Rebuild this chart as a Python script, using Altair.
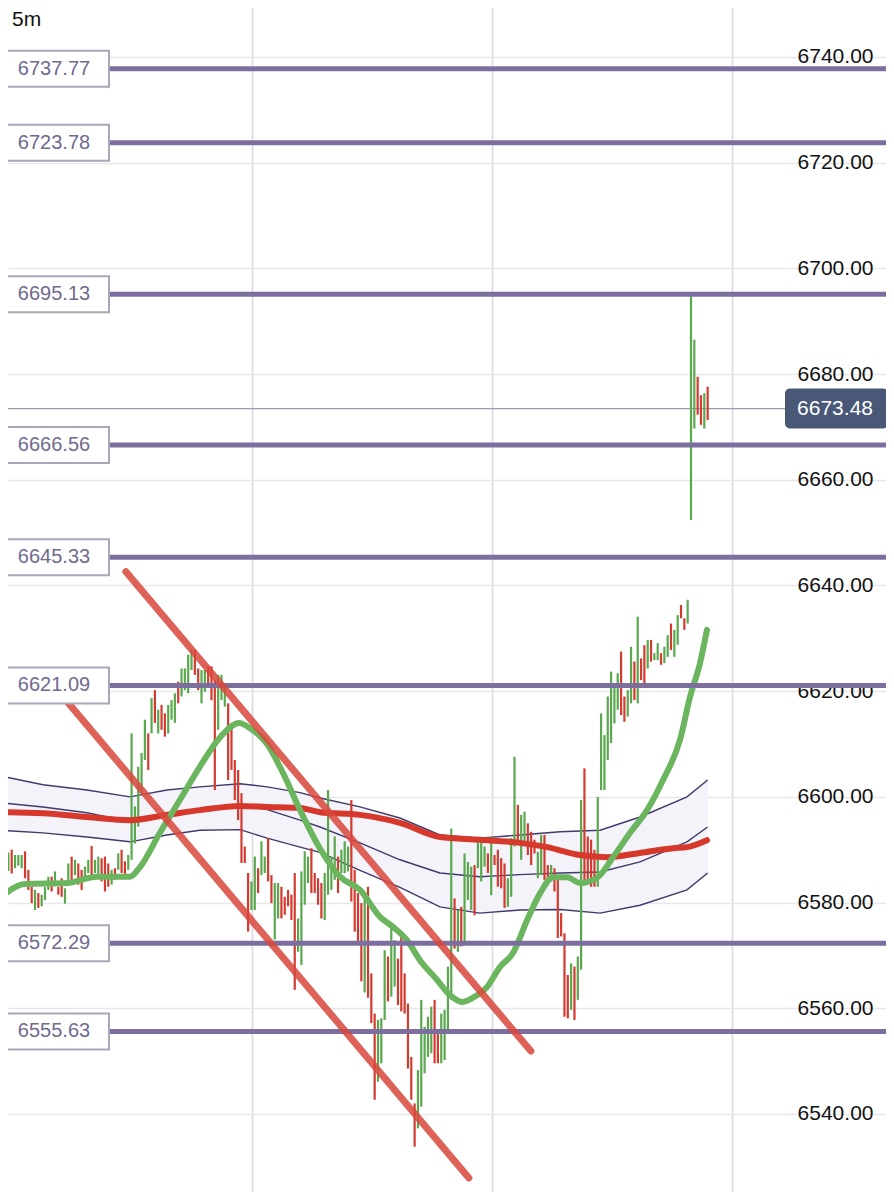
import altair as alt
import pandas as pd

# ---------------- data ----------------
TIMEFRAME = "5m"

# 5-minute bars, index 0..212 (high / low / direction g=up r=down)
HIGH = [
    6589.5, 6590.0, 6589.5, 6590.0, 6589.0, 6589.0, 6589.0, 6589.7, 6586.2, 6583.0,
    6582.4, 6581.8, 6581.5, 6583.0, 6584.9, 6584.9, 6585.9, 6583.0, 6584.6, 6582.7,
    6587.4, 6588.7, 6588.1, 6587.4, 6586.2, 6586.8, 6588.1, 6590.7, 6588.1, 6588.7,
    6588.4, 6588.7, 6587.4, 6586.2, 6586.5, 6589.3, 6590.0, 6587.8, 6589.0, 6612.0,
    6598.2, 6605.7, 6608.3, 6614.6, 6612.0, 6618.7, 6620.2, 6616.5, 6617.4, 6615.8,
    6617.4, 6618.3, 6619.6, 6621.8, 6624.3, 6624.3, 6626.9, 6627.8, 6627.8, 6624.3,
    6624.0, 6624.0, 6624.7, 6624.7, 6622.1, 6623.1, 6623.1, 6621.5, 6617.7, 6613.3,
    6607.0, 6605.1, 6600.7, 6590.6, 6585.6, 6584.0, 6588.7, 6586.5, 6591.6, 6588.7,
    6592.2, 6585.2, 6583.7, 6583.7, 6583.0, 6581.1, 6582.4, 6581.5, 6585.6, 6577.0,
    6585.9, 6589.7, 6588.7, 6590.3, 6585.6, 6584.6, 6583.7, 6585.6, 6601.3, 6588.7,
    6592.5, 6588.7, 6590.0, 6591.6, 6590.6, 6599.4, 6586.2, 6581.8, 6579.9, 6582.0,
    6583.0, 6566.6, 6559.0, 6557.8, 6558.1, 6571.0, 6569.8, 6576.1, 6572.9, 6569.4,
    6574.5, 6566.6, 6560.9, 6550.8, 6542.0, 6548.3, 6561.6, 6556.5, 6558.4, 6560.3,
    6561.6, 6555.9, 6559.0, 6559.7, 6567.9, 6594.0, 6580.8, 6578.6, 6579.2, 6589.3,
    6587.7, 6586.8, 6587.1, 6591.5, 6591.9, 6590.6, 6589.3, 6592.5, 6589.0, 6590.0,
    6588.4, 6587.4, 6584.6, 6592.2, 6607.6, 6598.5, 6596.6, 6597.2, 6595.0, 6593.4,
    6591.9, 6589.6, 6592.8, 6592.8, 6587.1, 6587.1, 6586.5, 6584.9, 6578.0, 6574.2,
    6566.3, 6568.5, 6567.9, 6569.8, 6599.4, 6605.4, 6592.5, 6591.9, 6590.0, 6600.0,
    6615.8, 6611.7, 6619.0, 6623.7, 6621.2, 6623.4, 6627.5, 6619.0, 6620.2, 6628.4,
    6625.6, 6634.1, 6626.2, 6628.7, 6629.7, 6629.7, 6627.2, 6629.1, 6627.2, 6628.4,
    6630.6, 6632.8, 6631.6, 6634.4, 6636.3, 6633.8, 6637.3, 6695.0, 6686.5, 6679.5,
    6676.0, 6676.4, 6677.6,
]
LOW = [
    6585.5, 6586.0, 6586.0, 6585.5, 6586.5, 6587.0, 6586.5, 6584.6, 6582.4, 6579.9,
    6578.6, 6579.0, 6579.3, 6580.5, 6582.4, 6582.1, 6583.4, 6581.5, 6581.1, 6579.8,
    6584.3, 6584.3, 6585.2, 6583.4, 6582.4, 6584.3, 6585.6, 6585.2, 6585.6, 6585.2,
    6584.0, 6582.1, 6583.0, 6583.4, 6584.3, 6586.2, 6585.6, 6585.2, 6586.2, 6588.1,
    6591.2, 6594.4, 6600.7, 6607.0, 6605.1, 6612.0, 6614.0, 6612.0, 6612.7, 6611.4,
    6612.0, 6614.6, 6614.0, 6617.7, 6619.0, 6620.2, 6619.6, 6624.0, 6623.1, 6620.2,
    6617.7, 6619.9, 6621.2, 6618.3, 6601.3, 6612.7, 6618.3, 6617.1, 6603.2, 6605.1,
    6599.4, 6595.6, 6587.5, 6587.5, 6574.5, 6578.6, 6578.6, 6581.8, 6585.2, 6585.6,
    6584.0, 6579.9, 6573.0, 6577.0, 6577.0, 6577.7, 6579.3, 6576.7, 6563.5, 6570.7,
    6568.2, 6579.6, 6583.7, 6581.8, 6581.8, 6579.6, 6577.0, 6576.7, 6581.5, 6582.4,
    6584.3, 6581.8, 6585.6, 6585.6, 6585.9, 6580.2, 6574.5, 6572.0, 6565.1, 6563.0,
    6562.0, 6557.2, 6542.7, 6546.1, 6549.6, 6557.8, 6561.3, 6562.2, 6564.1, 6560.6,
    6559.4, 6559.0, 6548.6, 6542.7, 6533.8, 6537.3, 6541.4, 6547.7, 6550.8, 6551.5,
    6549.6, 6549.6, 6549.6, 6550.2, 6555.9, 6561.6, 6571.3, 6570.7, 6571.7, 6572.3,
    6580.5, 6578.6, 6577.6, 6586.5, 6584.0, 6586.8, 6585.6, 6581.4, 6587.1, 6583.0,
    6582.7, 6579.0, 6579.2, 6581.1, 6590.6, 6591.5, 6588.1, 6591.2, 6589.0, 6587.1,
    6589.3, 6584.6, 6585.2, 6584.3, 6584.3, 6584.0, 6582.1, 6573.3, 6573.6, 6558.4,
    6558.1, 6559.7, 6557.8, 6561.6, 6567.3, 6583.7, 6584.3, 6583.0, 6583.0, 6583.0,
    6601.3, 6601.3, 6607.0, 6610.2, 6613.9, 6616.5, 6615.5, 6614.2, 6615.2, 6617.7,
    6618.3, 6617.7, 6622.1, 6620.9, 6624.3, 6625.6, 6625.9, 6625.9, 6625.0, 6625.3,
    6626.5, 6627.8, 6626.5, 6628.8, 6633.8, 6631.6, 6632.8, 6652.4, 6669.7, 6672.3,
    6670.4, 6669.7, 6671.3,
]
DIR = (
    "grgrgggrrr" "grgggrgrrg" "grgrrggrgg" "rrrgrgrrgg" "ggggrgrgrr"
    "gggrggggrr" "ggrrrgggrr" "rrrrrggrgg" "rrggrrrrrg" "gggrrrrggg"
    "grgggrrrrg" "rrrgggrggr" "rrrrrggggg" "rrggggrgrg" "ggrgggrgrr"
    "rrgggrggrr" "rggrrgrrrr" "rgrggrrrrg" "ggggggrrgg" "rgrrgrggrg"
    "grggrrgggr" "rgr"
)

# fast moving average (green)
GREEN_MA_IDX = [-0.5, 7, 19.6, 28.6, 38.5, 41.5, 47.5, 53.5, 59.5, 65.6, 71.3, 74.6,
                79.7, 84.5, 89.6, 95.6, 101.6, 107.6, 113.6, 117.5, 121.7, 125.6,
                130.7, 134.6, 138.2, 141.5, 145.7, 149.6, 153.6, 157.8, 161.7, 165.6,
                169.8, 173.7, 178.8, 183.6, 188.7, 193.8, 198.6, 203.7, 206.7, 209.7, 211.8]
GREEN_MA_VAL = [6580.9, 6583.5, 6583.7, 6584.9, 6584.9, 6586.7, 6593.2, 6599.4, 6605.7,
                6611.3, 6614.0, 6613.0, 6610.0, 6604.5, 6597.5, 6590.2, 6584.9, 6582.4,
                6577.3, 6575.4, 6572.9, 6569.1, 6565.4, 6562.5, 6561.2, 6562.0, 6564.0,
                6567.8, 6570.5, 6576.7, 6581.8, 6584.8, 6584.8, 6583.7, 6584.7, 6588.6,
                6593.2, 6597.5, 6603.2, 6610.8, 6618.9, 6625.3, 6631.6]

# slow moving average (red)
RED_MA_IDX = [-0.5, 12.4, 25.6, 38.5, 49.6, 59.5, 71.6, 79.7, 89.6, 95.6, 107.6,
              119.6, 131.6, 143.6, 155.6, 163.8, 173.7, 181.8, 191.7, 201.6, 205.8, 211.8]
RED_MA_VAL = [6597.1, 6596.9, 6596.2, 6595.6, 6596.6, 6597.5, 6598.3, 6598.1, 6597.9,
              6597.1, 6596.6, 6595.1, 6592.4, 6591.9, 6591.3, 6590.5, 6589.0, 6588.6,
              6589.4, 6590.3, 6590.5, 6591.8]

# envelope / band (upper, middle, lower)
BAND_IDX = [-0.5, 12.4, 25.6, 38.5, 49.6, 59.5, 71.6, 79.7, 89.6, 95.6, 107.6, 119.6,
            131.6, 143.6, 155.6, 167.7, 179.7, 191.7, 205.8, 212.0]
BAND_UP = [6604.0, 6602.3, 6601.3, 6600.0, 6601.3, 6601.9, 6602.5, 6601.9, 6600.8, 6599.8,
           6598.1, 6596.0, 6592.8, 6592.2, 6592.8, 6593.4, 6593.7, 6596.2, 6600.0, 6603.2]
BAND_MID = [6598.9, 6598.1, 6597.0, 6595.3, 6596.2, 6597.3, 6598.5, 6597.6, 6595.6, 6594.3,
            6591.3, 6588.1, 6585.6, 6584.9, 6585.3, 6585.6, 6585.8, 6587.7, 6591.5, 6594.3]
BAND_LO = [6593.7, 6593.2, 6592.4, 6591.5, 6592.8, 6593.7, 6593.8, 6592.2, 6590.5, 6589.5,
           6586.1, 6582.9, 6579.2, 6578.0, 6578.6, 6578.7, 6578.0, 6579.5, 6582.4, 6585.6]

# drawn trend channel
TREND_A_IDX = [37.3, 158.9]
TREND_A_VAL = [6642.6, 6551.9]
TREND_B_IDX = [19.3, 140.3]
TREND_B_VAL = [6618.3, 6527.9]

# horizontal levels
LEVELS = [6737.77, 6723.78, 6695.13, 6666.56, 6645.33, 6621.09, 6572.29, 6555.63]
LAST_PRICE = 6673.48

Y_TICKS = [6540, 6560, 6580, 6600, 6620, 6640, 6660, 6680, 6700, 6720, 6740]
V_GRID = [75.2, 147.2, 219.2]

# ---------------- chart ----------------
W, H = 878, 1184
FONT = "Liberation Sans"

xs = alt.Scale(domain=[1.89, 265.56], nice=False, zero=False)
ys = alt.Scale(domain=[6525.24, 6749.27], nice=False, zero=False)

XAX = alt.Axis(values=V_GRID, grid=True, labels=False, ticks=False, tickSize=0, domain=False,
               title=None, gridColor="#dcdce2", gridWidth=1.8)
YAX = alt.Axis(values=Y_TICKS, orient="right", format=".2f", grid=True,
               gridColor="#e7e7ec", gridWidth=1.5, ticks=False, tickSize=0,
               domain=False, labelAlign="right", labelPadding=-13,
               labelFontSize=21, labelColor="#111111", labelFont=FONT,
               labelFlush=False, labelOverlap=False, title=None)


def X(f):
    return alt.X(f, scale=xs, axis=XAX)


def Y(f):
    return alt.Y(f, scale=ys, axis=YAX)


candles = pd.DataFrame({"i": list(range(len(HIGH))), "high": HIGH, "low": LOW, "dir": list(DIR)})
green_df = pd.DataFrame({"i": GREEN_MA_IDX, "v": GREEN_MA_VAL})
red_df = pd.DataFrame({"i": RED_MA_IDX, "v": RED_MA_VAL})
band_df = pd.DataFrame({"i": BAND_IDX, "up": BAND_UP, "mid": BAND_MID, "lo": BAND_LO})
band_long = pd.concat([
    pd.DataFrame({"i": BAND_IDX, "v": BAND_UP, "b": "up"}),
    pd.DataFrame({"i": BAND_IDX, "v": BAND_MID, "b": "mid"}),
    pd.DataFrame({"i": BAND_IDX, "v": BAND_LO, "b": "lo"}),
])
trend_df = pd.concat([
    pd.DataFrame({"i": TREND_A_IDX, "v": TREND_A_VAL, "t": "a"}),
    pd.DataFrame({"i": TREND_B_IDX, "v": TREND_B_VAL, "t": "b"}),
])
levels_df = pd.DataFrame({"level": LEVELS})
last_df = pd.DataFrame({"p": [LAST_PRICE]})
tf_df = pd.DataFrame({"t": [TIMEFRAME]})

band_area = alt.Chart(band_df).mark_area(color="#f3f3f9").encode(
    x=X("i:Q"), y=Y("up:Q"), y2="lo:Q",
)

band_lines = alt.Chart(band_long).mark_line(color="#3f3a6b", strokeWidth=1.4).encode(
    x=X("i:Q"), y=Y("v:Q"), detail="b:N"
)

price_line = alt.Chart(last_df).mark_rule(color="#9c99ab", strokeWidth=1.2).encode(
    y=Y("p:Q"), x=alt.value(0), x2=alt.value(777)
)

bars = alt.Chart(candles).mark_rule(strokeWidth=2.2).encode(
    x=X("i:Q"), y=Y("high:Q"), y2="low:Q",
    color=alt.Color("dir:N", scale=alt.Scale(domain=["g", "r"], range=["#59a84e", "#d33a30"]),
                    legend=None),
)

red_ma = alt.Chart(red_df).mark_line(color="#d6382c", strokeWidth=6, interpolate="monotone",
                                     strokeCap="round").encode(x=X("i:Q"), y=Y("v:Q"))
green_ma = alt.Chart(green_df).mark_line(color="#6ab55e", strokeWidth=6, interpolate="monotone",
                                         strokeCap="round").encode(x=X("i:Q"), y=Y("v:Q"))

level_lines = alt.Chart(levels_df).mark_rule(color="#7c6f9f", strokeWidth=5).encode(
    y=Y("level:Q"), x=alt.value(101), x2=alt.value(W)
)

trends = alt.Chart(trend_df).mark_line(color="#d9463c", strokeWidth=7, opacity=0.85,
                                       strokeCap="round").encode(
    x=X("i:Q"), y=Y("v:Q"), detail="t:N"
)

level_boxes = alt.Chart(levels_df).mark_rect(fill="white", stroke="#a9a8b8", strokeWidth=2,
                                             yOffset=-18, y2Offset=18).encode(
    y=Y("level:Q"), y2="level:Q", x=alt.value(-8), x2=alt.value(101)
)
level_text = alt.Chart(levels_df).mark_text(font=FONT, fontSize=20, color="#716a8f",
                                            align="center", baseline="middle").encode(
    y=Y("level:Q"), x=alt.value(46), text=alt.Text("level:Q", format=".2f")
)

last_box = alt.Chart(last_df).mark_rect(fill="#4a5878", cornerRadius=5,
                                        yOffset=-20, y2Offset=20).encode(
    y=Y("p:Q"), y2="p:Q", x=alt.value(777), x2=alt.value(880)
)
last_text = alt.Chart(last_df).mark_text(font=FONT, fontSize=21, color="white",
                                         align="right", baseline="middle").encode(
    y=Y("p:Q"), x=alt.value(865), text=alt.Text("p:Q", format=".2f")
)

tf_text = alt.Chart(tf_df).mark_text(font=FONT, fontSize=21, color="#111111",
                                     align="left", baseline="alphabetic").encode(
    text="t:N", x=alt.value(4), y=alt.value(18)
)

chart = alt.layer(
    band_area, band_lines, price_line, bars, red_ma, green_ma, level_lines, trends,
    level_boxes, level_text, last_box, last_text, tf_text,
).properties(
    width=W, height=H, autosize=alt.AutoSizeParams(type="none"), padding=0,
).configure_view(stroke=None)

chart.save("out.html", embed_options={"renderer": "svg", "actions": False})
